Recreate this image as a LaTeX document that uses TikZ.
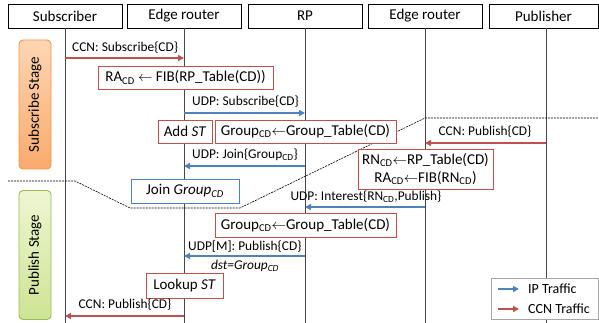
\documentclass[tikz,border=0pt]{standalone}
\usepackage{fontspec}
\setmainfont{Carlito}
\usetikzlibrary{arrows.meta}
\definecolor{ccnred}{RGB}{192,80,77}
\definecolor{ipblue}{RGB}{79,129,189}
\definecolor{lifegray}{RGB}{70,70,70}
\definecolor{orgline}{RGB}{247,150,70}
\definecolor{orgtop}{RGB}{253,214,178}
\definecolor{orgbot}{RGB}{249,170,110}
\definecolor{grnline}{RGB}{155,187,89}
\definecolor{grntop}{RGB}{238,246,208}
\definecolor{grnbot}{RGB}{205,228,148}
\tikzset{
  header/.style={draw=black, line width=0.8pt, fill=white, minimum width=114pt, minimum height=24pt, inner sep=0pt, font=\fontsize{15}{17}\selectfont},
  lifeline/.style={draw=lifegray, line width=0.9pt},
  redbox/.style={draw=ccnred, line width=0.9pt, fill=white, inner sep=0pt, font=\fontsize{15}{17}\selectfont},
  bluebox/.style={draw=ipblue, line width=0.9pt, fill=white, inner sep=0pt, font=\fontsize{15}{17}\selectfont},
  msg/.style={inner sep=0pt, font=\fontsize{13.4}{15}\selectfont},
  ccnflow/.style={draw=ccnred, line width=1.6pt, -{Triangle[length=6pt,width=6pt]}},
  ipflow/.style={draw=ipblue, line width=1.6pt, -{Triangle[length=6pt,width=6pt]}},
  stagebox/.style={rounded corners=4pt, line width=0.9pt, minimum width=32pt, minimum height=129pt, inner sep=0pt},
  stagetext/.style={rotate=90, inner sep=0pt, font=\fontsize{15}{17}\selectfont},
  border/.style={draw=black, line width=0.6pt, dash pattern=on 2pt off 1pt},
}
\newcommand{\sub}[1]{\textsubscript{#1}}
\newcommand{\la}{\ensuremath{\leftarrow}}
\begin{document}
\begin{tikzpicture}[x=1pt,y=-1pt]
\useasboundingbox (0,0) rectangle (599,323);
\fill[white] (0,0) rectangle (599,323);

% participants
\node[header] (hs) at (65,16) {Subscriber};
\node[header] (he1) at (184,16) {Edge router};
\node[header] (hr) at (305,16) {RP};
\node[header] (he2) at (425,16) {Edge router};
\node[header, minimum width=109pt] (hp) at (543.5,16) {Publisher};

% lifelines
\coordinate (ls) at (65,323);
\coordinate (le1) at (184,323);
\coordinate (lr) at (305,323);
\coordinate (le2) at (425,323);
\coordinate (lp) at (546,323);
\draw[lifeline] (hs.south) -- (ls);
\draw[lifeline] (he1.south) -- (le1);
\draw[lifeline] (hr.south) -- (lr);
\draw[lifeline] (he2.south) -- (le2);
\draw[lifeline] (546,28) -- (lp);

% stage boundary
\coordinate (b0) at (8,181);
\coordinate (b1) at (75,181);
\coordinate (b2) at (130,208);
\coordinate (b3) at (240,208);
\coordinate (b4) at (425,118);
\coordinate (b5) at (599,118);
\draw[border] (b0) -- (b1) -- (b2) -- (b3) -- (b4) -- (b5);

% stages
\node[stagebox, draw=orgline, top color=orgtop, bottom color=orgbot] (stA) at (35,104.5) {};
\node[stagetext] (stAt) at (stA.center) {Subscribe Stage};
\node[stagebox, draw=grnline, top color=grntop, bottom color=grnbot] (stB) at (35,255) {};
\node[stagetext] (stBt) at (stB.center) {Publish Stage};

% subscribe stage messages
\coordinate (m1a) at (65,58);  \coordinate (m1b) at (184,58);
\draw[ccnflow] (m1a) -- (m1b);
\node[msg, anchor=west] (t1) at (72,48) {CCN: Subscribe\{CD\}};

\node[redbox, minimum width=175pt, minimum height=23pt] (ra) at (185.5,77.5) {RA\sub{CD} \la{} FIB(RP\_Table(CD))};

\coordinate (m2a) at (184,113); \coordinate (m2b) at (305,113);
\draw[ipflow] (m2a) -- (m2b);
\node[msg, anchor=west] (t2) at (192,102) {UDP: Subscribe\{CD\}};

\node[redbox, minimum width=54pt, minimum height=23pt] (addst) at (185,131.5) {Add \textit{ST}};
\node[redbox, minimum width=181pt, minimum height=23pt] (grp1) at (305.5,131.5) {Group\sub{CD}\la{}Group\_Table(CD)};

\coordinate (m3a) at (305,166); \coordinate (m3b) at (184,166);
\draw[ipflow] (m3a) -- (m3b);
\node[msg, anchor=west] (t3) at (192,155) {UDP: Join\{Group\sub{CD}\}};

\node[bluebox, minimum width=108pt, minimum height=24pt] (join) at (185,191) {Join \textit{Group\sub{CD}}};

% publish stage messages
\coordinate (m4a) at (546,143); \coordinate (m4b) at (425,143);
\draw[ccnflow] (m4a) -- (m4b);
\node[msg] (t4) at (485,132) {CCN: Publish\{CD\}};

\node[redbox, minimum width=135pt, minimum height=40pt, align=center, font=\fontsize{15}{18}\selectfont] (rn) at (425.5,169)
  {RN\sub{CD}\la{}RP\_Table(CD)\\RA\sub{CD}\la{}FIB(RN\sub{CD})};

\coordinate (m5a) at (425,207); \coordinate (m5b) at (305,207);
\draw[ipflow] (m5a) -- (m5b);
\node[msg] (t5) at (366,197) {UDP: Interest\{RN\sub{CD},Publish\}};

\node[redbox, minimum width=181pt, minimum height=24pt] (grp2) at (305.5,225) {Group\sub{CD}\la{}Group\_Table(CD)};

\coordinate (m6a) at (305,256); \coordinate (m6b) at (184,256);
\draw[ipflow] (m6a) -- (m6b);
\node[msg, anchor=west] (t6) at (188,247) {UDP[M]: Publish\{CD\}};
\node[msg] (t6b) at (245,266) {\textit{dst=Group\sub{CD}}};

\node[redbox, minimum width=77pt, minimum height=25pt] (lookup) at (184.5,285.5) {Lookup \textit{ST}};

\coordinate (m7a) at (184,316); \coordinate (m7b) at (65,316);
\draw[ccnflow] (m7a) -- (m7b);
\node[msg] (t7) at (125,305) {CCN: Publish\{CD\}};

% legend
\node[draw=gray!70, line width=0.8pt, fill=white, minimum width=107pt, minimum height=41pt, inner sep=0pt] (leg) at (544.5,298.5) {};
\coordinate (l1a) at (498,289); \coordinate (l1b) at (519,289);
\coordinate (l2a) at (498,309); \coordinate (l2b) at (519,309);
\draw[ipflow] (l1a) -- (l1b);
\draw[ccnflow] (l2a) -- (l2b);
\node[anchor=west, inner sep=0pt, font=\fontsize{14}{16}\selectfont] (lt1) at (528,289) {IP Traffic};
\node[anchor=west, inner sep=0pt, font=\fontsize{14}{16}\selectfont] (lt2) at (528,309) {CCN Traffic};
\end{tikzpicture}
\end{document}
